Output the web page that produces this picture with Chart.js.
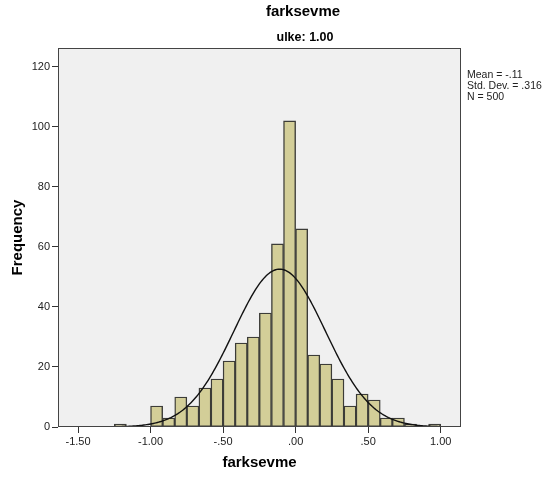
<!DOCTYPE html>
<html>
<head>
<meta charset="utf-8">
<script src="https://cdn.jsdelivr.net/npm/chart.js@4.4.1/dist/chart.umd.min.js"></script>
<style>
  html, body { margin: 0; padding: 0; background: #fff; }
  #chart { display: block; }
</style>
</head>
<body>
<canvas id="chart" width="548" height="481"></canvas>
<script>
// histogram of farksevme (ulke = 1.00), bins of 1/12 starting at -1.25
const binStart = -1.25;
const binWidth = 1 / 12;
const counts = [1, 0, 0, 7, 3, 10, 7, 13, 16, 22, 28, 30, 38, 61, 102,
                66, 24, 21, 16, 7, 11, 9, 3, 3, 1, 0, 1];

// summary statistics shown beside the plot
const mean = -0.11;
const stdDev = 0.316;
const n = 500;

const xTicks = [-1.5, -1.0, -0.5, 0, 0.5, 1.0];
const yTicks = [0, 20, 40, 60, 80, 100, 120];
const xMin = -1.638, xMax = 1.14;
const yMax = 126.3;

const FONT = "Arial, 'Liberation Sans', sans-serif";

const bars = counts.map((c, i) => ({ x: binStart + (i + 0.5) * binWidth, y: c }));

// fitted normal curve scaled to the histogram (N * bin width * density)
const curve = [];
for (let i = 0; i <= 300; i++) {
    const x = xMin + (xMax - xMin) * i / 300;
    const z = (x - mean) / stdDev;
    const y = n * binWidth * Math.exp(-0.5 * z * z) / (stdDev * Math.sqrt(2 * Math.PI));
    curve.push({ x: x, y: y });
}

// SPSS style decimals: ".50", "-.50", "1.00"
function spssFmt(v, digits) {
    let s = Math.abs(v).toFixed(digits);
    if (s.startsWith('0')) s = s.slice(1);
    return (v < 0 ? '-' : '') + s;
}

const frame = {
    id: 'frame',
    beforeDatasetsDraw(chart) {
        const { ctx, chartArea: a } = chart;
        ctx.save();
        ctx.fillStyle = '#f0f0f0';
        ctx.fillRect(a.left, a.top, a.right - a.left, a.bottom - a.top);
        ctx.restore();
    },
    afterDatasetsDraw(chart) {
        const { ctx, chartArea: a } = chart;
        ctx.save();
        ctx.strokeStyle = '#444';
        ctx.lineWidth = 1;
        ctx.strokeRect(a.left + 0.5, a.top + 0.5, a.right - a.left - 1, a.bottom - a.top - 1);
        ctx.restore();
    },
    afterDraw(chart) {
        const ctx = chart.ctx;
        ctx.save();
        ctx.fillStyle = '#000';
        ctx.textAlign = 'center';
        ctx.textBaseline = 'middle';
        ctx.font = 'bold 15px ' + FONT;
        ctx.fillText('farksevme', 303, 12);
        ctx.font = 'bold 12.5px ' + FONT;
        ctx.fillText('ulke: 1.00', 305, 38);
        ctx.fillStyle = '#222';
        ctx.textAlign = 'left';
        ctx.font = '10.5px ' + FONT;
        ctx.fillText('Mean = ' + spssFmt(mean, 2), 467, 75);
        ctx.fillText('Std. Dev. = ' + spssFmt(stdDev, 3), 467, 86);
        ctx.fillText('N = ' + n, 467, 97);
        ctx.restore();
    }
};

new Chart(document.getElementById('chart'), {
    type: 'bar',
    data: {
        datasets: [
            {
                type: 'line',
                data: curve,
                borderColor: '#111',
                borderWidth: 1.4,
                pointRadius: 0,
                fill: false,
                tension: 0,
                order: 0
            },
            {
                type: 'bar',
                data: bars,
                backgroundColor: '#d3ce98',
                borderColor: '#3c3c38',
                borderWidth: 1.4,
                borderSkipped: false,
                barPercentage: 1,
                categoryPercentage: 1,
                order: 1
            }
        ]
    },
    options: {
        responsive: false,
        animation: false,
        layout: { padding: { left: 0, right: 87, top: 48, bottom: 0 } },
        plugins: {
            legend: { display: false },
            tooltip: { enabled: false }
        },
        scales: {
            x: {
                type: 'linear',
                min: xMin,
                max: xMax,
                offset: false,
                afterBuildTicks: s => { s.ticks = xTicks.map(v => ({ value: v })); },
                afterFit: s => { s.height = 54; },
                grid: { offset: false, drawOnChartArea: false, tickLength: 6, color: '#333' },
                border: { display: false },
                ticks: {
                    padding: 2,
                    color: '#222',
                    font: { family: FONT, size: 11 },
                    maxRotation: 0,
                    callback: v => spssFmt(v, 2)
                },
                title: {
                    display: true,
                    text: 'farksevme',
                    color: '#000',
                    font: { family: FONT, size: 15, weight: 'bold' },
                    padding: { top: 0, bottom: 9.5 }
                }
            },
            y: {
                min: 0,
                max: yMax,
                afterBuildTicks: s => { s.ticks = yTicks.map(v => ({ value: v })); },
                afterFit: s => { s.width = 58; },
                grid: { drawOnChartArea: false, tickLength: 6, color: '#333' },
                border: { display: false },
                ticks: {
                    padding: 2,
                    color: '#222',
                    font: { family: FONT, size: 11 }
                },
                title: {
                    display: true,
                    text: 'Frequency',
                    color: '#000',
                    font: { family: FONT, size: 15, weight: 'bold' },
                    padding: { top: 8.5, bottom: 0 }
                }
            }
        }
    },
    plugins: [frame]
});
</script>
</body>
</html>
